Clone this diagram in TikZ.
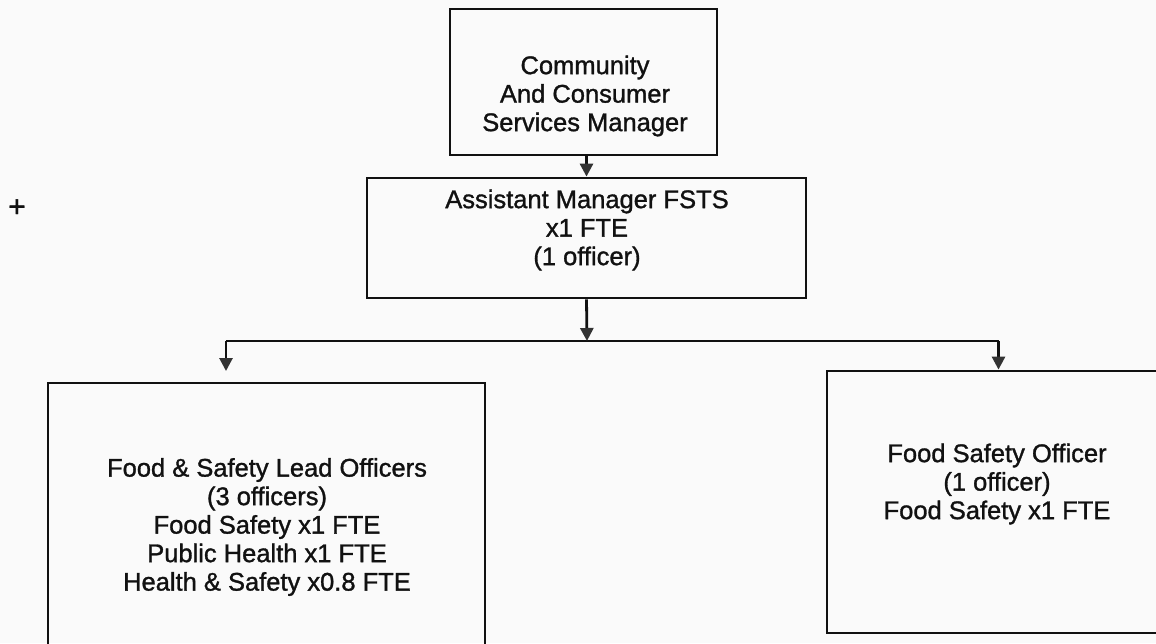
\documentclass[tikz,border=0pt]{standalone}
\usepackage{fontspec}
\setmainfont{Liberation Sans}
\newfontfamily\scanfont{Liberation Sans}[FakeBold=1.2]
\usetikzlibrary{arrows.meta}
\definecolor{paper}{HTML}{FAFAFA}
\definecolor{ink}{HTML}{111111}
\definecolor{headgray}{HTML}{333333}
\begin{document}
\begin{tikzpicture}[x=1pt,y=-1pt,
  box/.style={draw=ink, line width=2.8pt, rectangle, inner sep=0pt},
  lbl/.style={align=center, inner sep=0pt, text=ink, font=\scanfont\fontsize{25.5}{28.5}\selectfont},
  link/.style={draw=ink, line width=2.8pt},
  arr/.style={draw=ink, line width=2.8pt, -{Triangle[width=13pt,length=13pt,fill=headgray,color=headgray]}}]
\useasboundingbox (0,0) rectangle (1156,643);
\fill[paper] (0,0) rectangle (1156,643);
\clip (0,0) rectangle (1156,643);

% boxes
\node[box, minimum width=267pt, minimum height=146pt] (ccsm) at (583.5,82) {};
\node[box, minimum width=439pt, minimum height=120pt] (asst) at (586.5,238) {};
\node[box, minimum width=437pt, minimum height=290pt] (lead) at (266.5,528) {};
\node[box, minimum width=343pt, minimum height=262pt] (fso) at (998.5,502) {};

% texts
\node[lbl] (ccsmT) at (585,96) {Community\\And Consumer\\Services Manager};
\node[lbl] (asstT) at (587,230) {Assistant Manager FSTS\\x1 FTE\\(1 officer)};
\node[lbl] (leadT) at (267,527) {Food \& Safety Lead Officers\\(3 officers)\\Food Safety x1 FTE\\Public Health x1 FTE\\Health \& Safety x0.8 FTE};
\node[lbl] (fsoT) at (997,484) {Food Safety Officer\\(1 officer)\\Food Safety x1 FTE};

% plus sign
\node[text=ink, font=\scanfont\fontsize{30}{32}\selectfont, inner sep=0pt] (plus) at (17,208) {+};

% connectors
\coordinate (jn) at (587,341);
\coordinate (jl) at (226,341);
\coordinate (jr) at (998.5,341);
\coordinate (lt) at (226,371);

\draw[arr] (ccsm.south -| asst.south) -- (asst.north);
\draw[link] (jl) -- (jr);
\draw[arr] (asst.south) -- (jn);
\draw[arr] (jl) -- (lt);
\draw[arr] (jr) -- (fso.north);
\end{tikzpicture}
\end{document}
